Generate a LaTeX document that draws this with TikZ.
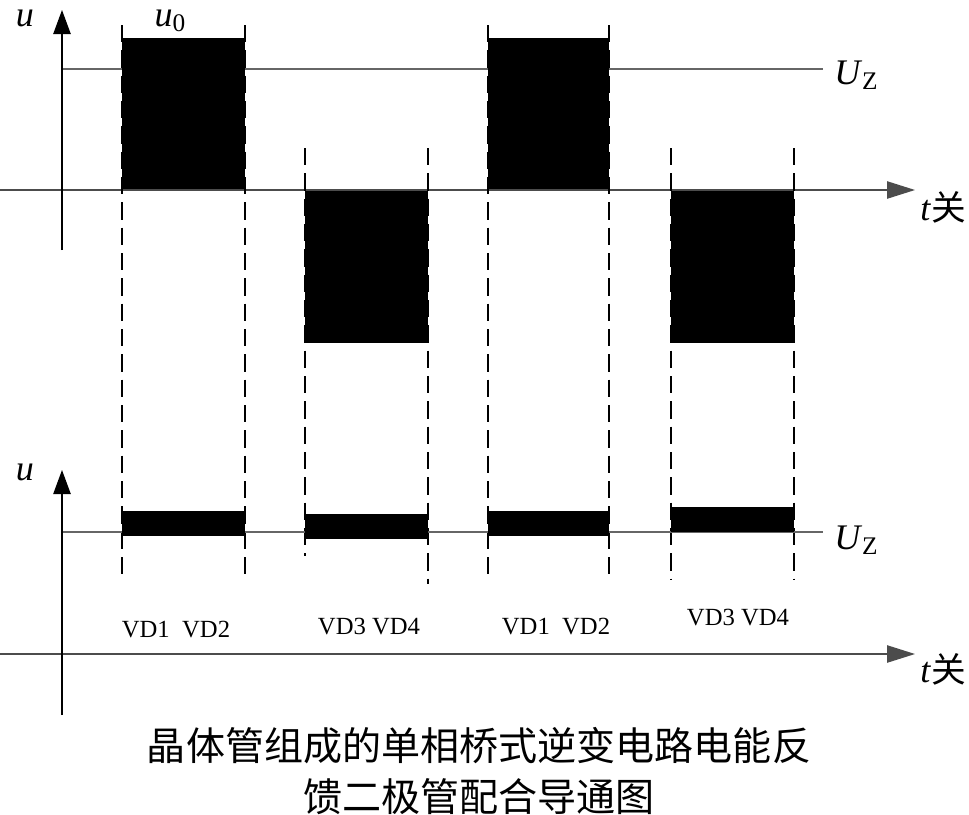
\documentclass[tikz,border=0pt]{standalone}
\usepackage{fontspec}
\setmainfont{Liberation Serif}
\newfontfamily\cjk{Noto Sans CJK SC}
\usetikzlibrary{arrows.meta}
\begin{document}
\begin{tikzpicture}[x=0.75pt,y=-0.75pt,
  axisv/.style={line width=1pt, draw=black, -{Triangle[length=18pt,width=13pt]}},
  axish/.style={line width=1pt, draw=black!70, -{Triangle[length=21pt,width=13pt]}},
  uzline/.style={line width=1pt, draw=black!60},
  guide/.style={line width=2pt, draw=black, dash pattern=on 13pt off 6pt},
  pulse/.style={fill=black},
  lbl/.style={font=\fontsize{27}{27}\selectfont, inner sep=0pt},
  vdlbl/.style={font=\fontsize{18.5}{18.5}\selectfont, inner sep=0pt},
  caption/.style={font=\cjk\fontsize{29.3}{38}\selectfont, align=center, inner sep=0pt}]
\useasboundingbox (0,0) rectangle (969,814);

% ---------- top graph ----------
\coordinate (t0) at (62,250);
\coordinate (t1) at (62,10);
\coordinate (h0) at (0,190);
\coordinate (h1) at (915,190);
\coordinate (z0) at (62,69);
\coordinate (z1) at (823,69);
\draw[uzline] (z0) -- (z1);
\fill[pulse] (122,38) rectangle (245,190);
\fill[pulse] (488,38) rectangle (609,190);
\fill[pulse] (305,190) rectangle (428,343);
\fill[pulse] (671,190) rectangle (794,343);
\draw[axish] (h0) -- (h1);
\draw[axisv] (t0) -- (t1);

\node[lbl] (ut) at (25,18) {\textit{u}};
\node[lbl] (u0) at (170,21) {\textit{u}\raisebox{-0.3ex}{\fontsize{19}{19}\selectfont 0}};
\node[lbl, anchor=west] (uzt) at (834,75) {\textit{U}\raisebox{-0.3ex}{\fontsize{19}{19}\selectfont Z}};
\node[lbl, anchor=west] (tt) at (920,207) {\textit{t}{\cjk\fontsize{26}{26}\selectfont 关}};

% ---------- dashed guides ----------
\draw[guide] (122,25) -- (122,575);
\draw[guide] (245,25) -- (245,575);
\draw[guide] (305,148) -- (305,556);
\draw[guide] (428,148) -- (428,584);
\draw[guide] (488,25) -- (488,580);
\draw[guide] (609,25) -- (609,580);
\draw[guide] (671,148) -- (671,580);
\draw[guide] (794,148) -- (794,580);

% ---------- bottom graph ----------
\coordinate (b0) at (62,715);
\coordinate (b1) at (62,470);
\coordinate (g0) at (0,654);
\coordinate (g1) at (915,654);
\coordinate (y0) at (62,532);
\coordinate (y1) at (823,532);
\draw[uzline] (y0) -- (y1);
\fill[pulse] (122,511) rectangle (245,536);
\fill[pulse] (305,514) rectangle (428,539);
\fill[pulse] (488,511) rectangle (609,536);
\fill[pulse] (671,507) rectangle (794,532);
\draw[axish] (g0) -- (g1);
\draw[axisv] (b0) -- (b1);

\node[lbl] (ub) at (25,472) {\textit{u}};
\node[lbl, anchor=west] (uzb) at (834,540) {\textit{U}\raisebox{-0.3ex}{\fontsize{19}{19}\selectfont Z}};
\node[lbl, anchor=west] (tb) at (920,669) {\textit{t}{\cjk\fontsize{26}{26}\selectfont 关}};

\node[vdlbl] (vd1) at (176,630) {VD1\ \ VD2};
\node[vdlbl] (vd2) at (369,627) {VD3\ VD4};
\node[vdlbl] (vd3) at (556,627) {VD1\ \ VD2};
\node[vdlbl] (vd4) at (738,618) {VD3\ VD4};

% ---------- caption ----------
\node[caption] (cap) at (479,771) {晶体管组成的单相桥式逆变电路电能反\\馈二极管配合导通图};
\end{tikzpicture}
\end{document}
